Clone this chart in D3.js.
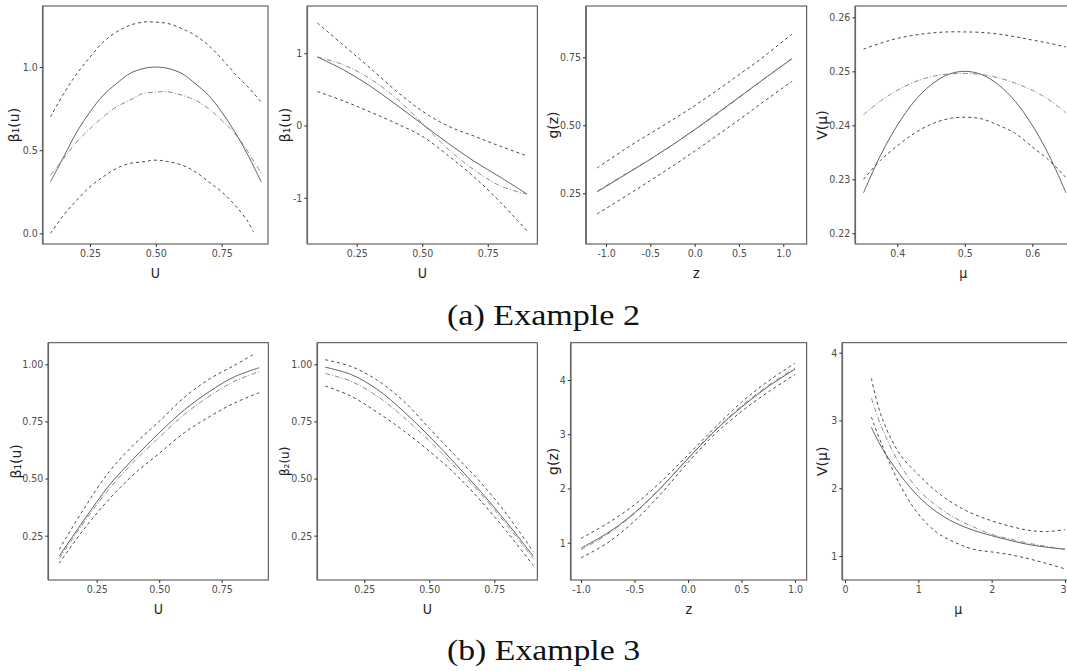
<!DOCTYPE html>
<html>
<head>
<meta charset="utf-8">
<script src="https://d3js.org/d3.v7.min.js"></script>
<style>
  body { margin: 0; background: #fff; }
  .tick text { font-family: "DejaVu Sans Condensed", "DejaVu Sans", sans-serif; font-stretch: condensed; fill: #4d4d4d; font-size: 10.5px; }
  .tick line { stroke: #333; }
  .xtitle { font-family: "DejaVu Sans Condensed", "DejaVu Sans", sans-serif; font-stretch: condensed; font-size: 14px; fill: #222; }
  .ytitle { font-family: "DejaVu Sans", sans-serif; font-size: 14px; fill: #222; }
  .caption { font-family: "Liberation Serif", serif; font-size: 29px; fill: #111; }
</style>
</head>
<body>
<svg id="chart"></svg>
<script>
// ---- (a) Example 2 ----
const a1U = [0.10,0.15,0.20,0.25,0.30,0.35,0.40,0.45,0.50,0.55,0.60,0.65,0.70,0.75,0.80,0.85,0.90];
const a1True = [0.31,0.46,0.61,0.73,0.83,0.90,0.96,0.99,1.00,0.99,0.96,0.90,0.83,0.73,0.61,0.47,0.31];
const a1Est  = [0.35,0.45,0.55,0.63,0.70,0.76,0.80,0.84,0.85,0.85,0.83,0.80,0.75,0.68,0.60,0.49,0.36];
const a1Up   = [0.70,0.84,0.96,1.06,1.15,1.21,1.25,1.27,1.27,1.26,1.23,1.19,1.13,1.05,0.96,0.88,0.79];
const a1LoU  = [0.10,0.15,0.20,0.25,0.30,0.35,0.40,0.45,0.50,0.55,0.60,0.65,0.70,0.75,0.80,0.85,0.87];
const a1Lo   = [0.00,0.11,0.20,0.28,0.34,0.39,0.42,0.43,0.44,0.43,0.41,0.37,0.31,0.25,0.17,0.07,0.01];

const a2U = [0.1,0.2,0.3,0.4,0.5,0.6,0.7,0.8,0.9];
const a2True = [0.95,0.77,0.55,0.29,0.02,-0.25,-0.50,-0.72,-0.95];
const a2Est  = [0.95,0.84,0.65,0.38,0.03,-0.33,-0.62,-0.84,-0.95];
const a2Up   = [1.42,1.11,0.80,0.48,0.20,-0.01,-0.15,-0.29,-0.42];
const a2Lo   = [0.47,0.34,0.19,0.03,-0.15,-0.42,-0.72,-1.07,-1.46];

const a3Z = [-1.1,-0.75,-0.5,-0.25,0,0.25,0.5,0.75,1.1];
const a3True = [0.255,0.325,0.375,0.428,0.484,0.543,0.603,0.663,0.745];
const a3Est  = [0.258,0.327,0.376,0.428,0.483,0.541,0.601,0.662,0.747];
const a3Up   = [0.343,0.420,0.470,0.520,0.572,0.628,0.686,0.745,0.836];
const a3Lo   = [0.174,0.245,0.297,0.350,0.405,0.462,0.520,0.580,0.662];

const a4M = [0.35,0.375,0.40,0.425,0.45,0.475,0.50,0.525,0.55,0.575,0.60,0.625,0.65];
const a4True = [0.2275,0.2344,0.2400,0.2444,0.2475,0.2494,0.2500,0.2494,0.2475,0.2444,0.2400,0.2344,0.2275];
const a4Est  = [0.2420,0.2445,0.2465,0.2480,0.2490,0.2495,0.2496,0.2494,0.2488,0.2478,0.2465,0.2447,0.2423];
const a4Up   = [0.2541,0.2552,0.2561,0.2567,0.2571,0.2573,0.2573,0.2572,0.2569,0.2564,0.2558,0.2552,0.2545];
const a4Lo   = [0.2300,0.2335,0.2362,0.2385,0.2402,0.2412,0.2415,0.2412,0.2400,0.2385,0.2360,0.2335,0.2303];

// ---- (b) Example 3 ----
const b1U = [0.1,0.2,0.3,0.4,0.5,0.6,0.7,0.8,0.9];
const b1True = [0.16,0.32,0.47,0.59,0.70,0.80,0.88,0.945,0.985];
const b1Est  = [0.15,0.31,0.455,0.575,0.68,0.78,0.86,0.925,0.968];
const b1UpU  = [0.1,0.2,0.3,0.4,0.5,0.6,0.7,0.8,0.88];
const b1Up   = [0.19,0.37,0.53,0.65,0.75,0.855,0.935,0.995,1.045];
const b1Lo   = [0.13,0.28,0.41,0.52,0.61,0.70,0.77,0.83,0.876];

const b2U = [0.1,0.2,0.3,0.4,0.5,0.6,0.7,0.8,0.9];
const b2True = [0.987,0.955,0.89,0.795,0.685,0.565,0.44,0.305,0.16];
const b2Est  = [0.96,0.925,0.86,0.77,0.665,0.55,0.43,0.295,0.15];
const b2Up   = [1.02,0.99,0.93,0.84,0.72,0.60,0.48,0.34,0.18];
const b2Lo   = [0.905,0.86,0.79,0.71,0.62,0.52,0.40,0.265,0.12];

const b3Z = [-1,-0.75,-0.5,-0.25,0,0.25,0.5,0.75,1];
const b3True = [0.90,1.18,1.55,2.02,2.55,3.06,3.50,3.88,4.20];
const b3Est  = [0.87,1.16,1.54,2.02,2.56,3.07,3.52,3.90,4.22];
const b3Up   = [1.08,1.36,1.70,2.13,2.62,3.12,3.59,3.98,4.31];
const b3Lo   = [0.72,1.00,1.40,1.91,2.48,3.00,3.42,3.78,4.10];

const b4M = [0.36,0.5,0.75,1,1.25,1.5,1.75,2,2.25,2.5,2.75,3];
const b4True = [2.90,2.60,2.20,1.88,1.65,1.49,1.38,1.30,1.23,1.17,1.13,1.10];
const b4Est  = [3.33,2.90,2.35,1.98,1.74,1.56,1.43,1.32,1.25,1.19,1.14,1.10];
const b4Up   = [3.62,3.05,2.50,2.20,1.95,1.76,1.62,1.52,1.44,1.38,1.36,1.39];
const b4Lo   = [3.05,2.65,2.05,1.62,1.35,1.20,1.10,1.06,1.02,0.96,0.89,0.81];

// tick values and labels
const uTicks = [0.25, 0.5, 0.75], uLabels = ["0.25", "0.50", "0.75"];
const zTicks = [-1, -0.5, 0, 0.5, 1], zLabels = ["-1.0", "-0.5", "0.0", "0.5", "1.0"];
const a1YTicks = [0, 0.5, 1], a1YLabels = ["0.0", "0.5", "1.0"];
const a2YTicks = [-1, 0, 1], a2YLabels = ["-1", "0", "1"];
const a3YTicks = [0.25, 0.5, 0.75], a3YLabels = ["0.25", "0.50", "0.75"];
const a4XTicks = [0.4, 0.5, 0.6], a4XLabels = ["0.4", "0.5", "0.6"];
const a4YTicks = [0.22, 0.23, 0.24, 0.25, 0.26], a4YLabels = ["0.22", "0.23", "0.24", "0.25", "0.26"];
const bYTicks = [0.25, 0.5, 0.75, 1], bYLabels = ["0.25", "0.50", "0.75", "1.00"];
const intTicks = [1, 2, 3, 4], intLabels = ["1", "2", "3", "4"];
const b4XTicks = [0, 1, 2, 3], b4XLabels = ["0", "1", "2", "3"];

const width = 1067, height = 671;
const svg = d3.select("#chart").attr("width", width).attr("height", height);

const pairs = (xs, ys) => xs.map((x, i) => [x, ys[i]]);

const panels = [
  { box: [42.7, 6, 268, 244], xd: [0.0704, 0.9258], yd: [-0.064, 1.367],
    xt: [uTicks, uLabels], yt: [a1YTicks, a1YLabels], xl: "U", yl: "β₁(u)", ylx: 14,
    s: [[a1U, a1True], [a1U, a1Est], [a1U, a1Up], [a1LoU, a1Lo]] },
  { box: [307.3, 6, 537.3, 244], xd: [0.0615, 0.939], yd: [-1.641, 1.655],
    xt: [uTicks, uLabels], yt: [a2YTicks, a2YLabels], xl: "U", yl: "β₁(u)", ylx: 285,
    s: [[a2U, a2True], [a2U, a2Est], [a2U, a2Up], [a2U, a2Lo]] },
  { box: [586, 6, 806.7, 244], xd: [-1.2256, 1.264], yd: [0.0636, 0.9386],
    xt: [zTicks, zLabels], yt: [a3YTicks, a3YLabels], xl: "z", yl: "g(z)", ylx: 553,
    s: [[a3Z, a3True], [a3Z, a3Est], [a3Z, a3Up], [a3Z, a3Lo]] },
  { box: [855.3, 6, 1071.3, 244], xd: [0.3378, 0.6578], yd: [0.21802, 0.2621],
    xt: [a4XTicks, a4XLabels], yt: [a4YTicks, a4YLabels], xl: "μ", yl: "V(μ)", ylx: 822,
    s: [[a4M, a4True], [a4M, a4Est], [a4M, a4Up], [a4M, a4Lo]] },
  { box: [48.3, 342.7, 268.3, 580], xd: [0.0564, 0.9364], yd: [0.0561, 1.0945],
    xt: [uTicks, uLabels], yt: [bYTicks, bYLabels], xl: "U", yl: "β₁(u)", ylx: 16,
    s: [[b1U, b1True], [b1U, b1Est], [b1UpU, b1Up], [b1U, b1Lo]] },
  { box: [317.3, 342.7, 537.3, 580], xd: [0.0692, 0.9154], yd: [0.0561, 1.0945],
    xt: [uTicks, uLabels], yt: [bYTicks, bYLabels], xl: "U", yl: "β₂(u)", ylx: 284, ys: 12,
    s: [[b2U, b2True], [b2U, b2Est], [b2U, b2Up], [b2U, b2Lo]] },
  { box: [570.7, 342.7, 806.7, 580], xd: [-1.0963, 1.1093], yd: [0.312, 4.688],
    xt: [zTicks, zLabels], yt: [intTicks, intLabels], xl: "z", yl: "g(z)", ylx: 553,
    s: [[b3Z, b3True], [b3Z, b3Est], [b3Z, b3Up], [b3Z, b3Lo]] },
  { box: [842.3, 342.7, 1074.3, 580], xd: [-0.0368, 3.1268], yd: [0.6459, 4.1476],
    xt: [b4XTicks, b4XLabels], yt: [intTicks, intLabels], xl: "μ", yl: "V(μ)", ylx: 822,
    s: [[b4M, b4True], [b4M, b4Est], [b4M, b4Up], [b4M, b4Lo]] }
];

// line styles: truth, estimate, upper band, lower band
const styles = [
  { stroke: "#3a3a3a", width: 0.8, dash: null },
  { stroke: "#6e6e6e", width: 0.8, dash: "5,2,1,2" },
  { stroke: "#333", width: 0.9, dash: "3,3" },
  { stroke: "#333", width: 0.9, dash: "3,3" }
];

panels.forEach(p => {
  const [L, T, R, B] = p.box;
  const x = d3.scaleLinear().domain(p.xd).range([L, R]);
  const y = d3.scaleLinear().domain(p.yd).range([B, T]);
  const g = svg.append("g");

  g.append("rect")
    .attr("x", L).attr("y", T).attr("width", R - L).attr("height", B - T)
    .attr("fill", "none").attr("stroke", "#444").attr("stroke-width", 1);
  g.append("line")
    .attr("x1", L).attr("x2", L).attr("y1", T).attr("y2", B)
    .attr("stroke", "#666").attr("stroke-width", 1.6);

  const line = d3.line().x(d => x(d[0])).y(d => y(d[1])).curve(d3.curveCatmullRom.alpha(0.5));
  p.s.forEach((ser, i) => {
    const st = styles[i];
    g.append("path")
      .datum(pairs(ser[0], ser[1]))
      .attr("d", line)
      .attr("fill", "none")
      .attr("stroke", st.stroke)
      .attr("stroke-width", st.width)
      .attr("stroke-dasharray", st.dash);
  });

  g.append("g")
    .attr("transform", `translate(0,${B})`)
    .call(d3.axisBottom(x).tickValues(p.xt[0]).tickFormat((d, i) => p.xt[1][i]).tickSize(3).tickPadding(3))
    .call(a => a.select(".domain").remove())
    .call(a => a.selectAll(".tick text")
      .filter(d => x(d) + 5 > width)
      .attr("text-anchor", "end").attr("dx", "0.1em"));
  g.append("g")
    .attr("transform", `translate(${L},0)`)
    .call(d3.axisLeft(y).tickValues(p.yt[0]).tickFormat((d, i) => p.yt[1][i]).tickSize(3).tickPadding(2))
    .call(a => a.select(".domain").remove());

  g.selectAll(".tick text").attr("font-family", null).attr("font-size", null);

  g.append("text").attr("class", "xtitle")
    .attr("x", (L + R) / 2).attr("y", B + 34)
    .attr("text-anchor", "middle").text(p.xl);

  g.append("text").attr("class", "ytitle")
    .attr("transform", `translate(${p.ylx + 5},${(T + B) / 2}) rotate(-90)`)
    .attr("text-anchor", "middle")
    .style("font-size", (p.ys || 14) + "px")
    .text(p.yl);
});

svg.append("text").attr("class", "caption")
  .attr("x", 447).attr("y", 325).attr("textLength", 193).attr("lengthAdjust", "spacingAndGlyphs")
  .text("(a) Example 2");
svg.append("text").attr("class", "caption")
  .attr("x", 447).attr("y", 660).attr("textLength", 193).attr("lengthAdjust", "spacingAndGlyphs")
  .text("(b) Example 3");
</script>
</body>
</html>
